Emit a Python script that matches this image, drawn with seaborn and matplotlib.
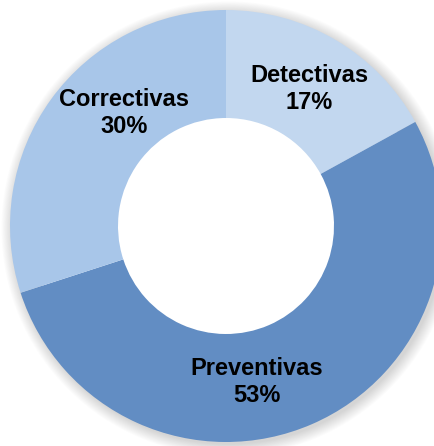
import numpy as np
import matplotlib
matplotlib.use("Agg")
import matplotlib.pyplot as plt
import seaborn as sns
from matplotlib.patches import Circle, Wedge

# Control types and their shares (%)
categories = ["Detectivas", "Preventivas", "Correctivas"]
shares = [17, 53, 30]
colors = ["#c2d7ef", "#628dc3", "#a8c6e9"]

sns.set_theme(style="white")
plt.rcParams["font.family"] = ["Liberation Sans", "DejaVu Sans"]

W, H = 435, 446
fig = plt.figure(figsize=(W / 100, H / 100), dpi=100)
ax = fig.add_axes([0, 0, 1, 1])

# Pixel scale: ring centre and outer radius in figure pixels
cx, cy, R = 226, 226, 216

# soft drop shadow just outside the ring
for i in range(14):
    ax.add_patch(Wedge((0.012, -0.012), 1.0 + i * 0.004, 0, 360, width=0.1 + i * 0.004,
                       color="black", alpha=0.012, lw=0, zorder=0))

wedges, _ = ax.pie(shares, colors=colors, startangle=90, counterclock=False,
                   radius=1.0, wedgeprops=dict(width=0.5, edgecolor="none"),
                   center=(0, 0))
for w in wedges:
    w.set_zorder(2)
ax.set_xlim(-cx / R, (W - cx) / R)
ax.set_ylim(-(H - cy) / R, cy / R)
ax.set_aspect("equal")
ax.axis("off")

# label placement: (angle offset in degrees, radius) relative to wedge mid-angle
label_adjust = [(-0.6, 0.745), (-12.0, 0.73), (-12.2, 0.71)]
for w, name, val, (da, r) in zip(wedges, categories, shares, label_adjust):
    mid = np.deg2rad((w.theta1 + w.theta2) / 2 + da)
    ax.text(r * np.cos(mid), r * np.sin(mid) - 0.005, f"{name}\n{val}%",
            ha="center", va="center", fontsize=17, fontweight="bold",
            color="black", linespacing=1.22, zorder=3)

fig.savefig("out.png", dpi=100, facecolor="white")
